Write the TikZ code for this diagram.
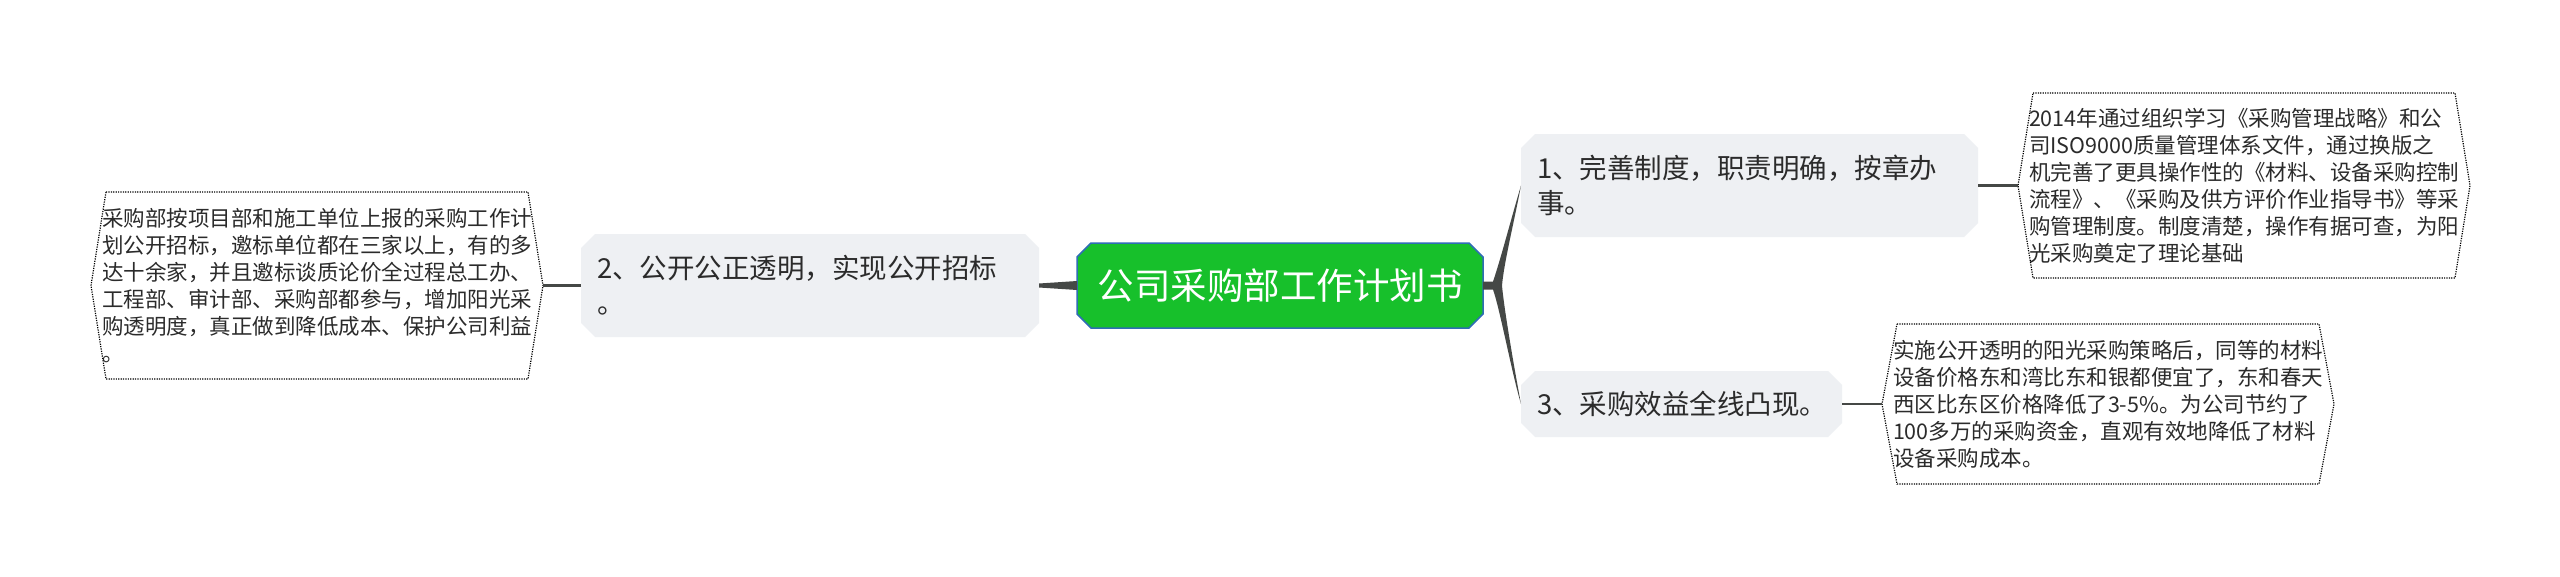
\documentclass[tikz,border=0pt]{standalone}
\usepackage{fontspec}
\setmainfont{Noto Sans CJK SC}
\usetikzlibrary{shapes.misc,calc}
\definecolor{topicgreen}{HTML}{17C02B}
\definecolor{topicblue}{HTML}{2F6DB5}
\definecolor{subfill}{HTML}{EEF0F3}
\definecolor{linkgray}{HTML}{454846}
\definecolor{textgray}{HTML}{2B2B2B}

\begin{document}
\begin{tikzpicture}[
x=1pt,y=-1pt,
every node/.style={inner sep=0pt,outer sep=0pt},
topic/.style={chamfered rectangle,chamfered rectangle xsep=7pt,chamfered rectangle ysep=7pt,
  fill=topicgreen,draw=topicblue,line width=1.5pt,minimum width=406pt,minimum height=85pt,
  text=white,font=\fontsize{36.5}{44}\selectfont},
sub/.style={chamfered rectangle,chamfered rectangle xsep=7pt,chamfered rectangle ysep=7pt,
  fill=subfill,minimum height=103pt,align=left,text=textgray,font=\fontsize{27.5}{35}\selectfont},
detail/.style={rectangle,text width=430pt,align=left,text=textgray,font=\fontsize{21.5}{27}\selectfont},
outline/.style={draw=black,line width=1.2pt,dash pattern=on 1.2pt off 1.2pt},
link/.style={draw=linkgray,line width=2.5pt},
]
\path[fill=white] (0,0) rectangle (2560,576);

\node[topic] (topic) at (1280,285.5) {公司采购部工作计划书};

\node[sub,minimum width=458pt,text width=426pt] (s2) at (810,285.5)
  {2、公开公正透明，实现公开招标\\。};
\node[sub,minimum width=457pt,text width=425pt] (s1) at (1749.5,185.5)
  {1、完善制度，职责明确，按章办\\事。};
\node[sub,minimum width=321pt,minimum height=66pt,text width=289pt] (s3) at (1681.5,404)
  {3、采购效益全线凸现。};

\node[detail,minimum height=187pt] (dl) at (317,285.5)
  {采购部按项目部和施工单位上报的采购工作计\\
   划公开招标，邀标单位都在三家以上，有的多\\
   达十余家，并且邀标谈质论价全过程总工办、\\
   工程部、审计部、采购部都参与，增加阳光采\\
   购透明度，真正做到降低成本、保护公司利益\\
   。};
\node[detail,minimum height=185pt] (d1) at (2244,185.5)
  {2014年通过组织学习《采购管理战略》和公\\
   司ISO9000质量管理体系文件，通过换版之\\
   机完善了更具操作性的《材料、设备采购控制\\
   流程》、《采购及供方评价作业指导书》等采\\
   购管理制度。制度清楚，操作有据可查，为阳\\
   光采购奠定了理论基础};
\node[detail,minimum height=160pt] (d3) at (2108,404)
  {实施公开透明的阳光采购策略后，同等的材料\\
   设备价格东和湾比东和银都便宜了，东和春天\\
   西区比东区价格降低了3-5\%。为公司节约了\\
   100多万的采购资金，直观有效地降低了材料\\
   设备采购成本。};

\foreach \d in {dl,d1,d3}
  \draw[outline] ($(\d.north west)+(4,0)$) -- ($(\d.north east)+(-4,0)$)
    -- ($(\d.east)+(11,0)$) -- ($(\d.south east)+(-4,0)$)
    -- ($(\d.south west)+(4,0)$) -- ($(\d.west)+(-11,0)$) -- cycle;

% left side
\draw[link] ($(dl.east)+(11,0)$) -- (s2.west);
\fill[linkgray] ($(s2.east)+(0,-2)$) -- ($(topic.west)+(0,-4.5)$)
  -- ($(topic.west)+(0,4.5)$) -- ($(s2.east)+(0,2)$) -- cycle;

% right side
\coordinate (fork) at ($(topic.east)+(14,0)$);
\fill[linkgray] ($(topic.east)+(0,-4)$) -- ($(fork)+(-4,-4)$)
  .. controls ($(fork)+(3,-24)$) and ($(s1.west)+(-9,30)$) .. (s1.west)
  .. controls ($(s1.west)+(-7,37)$) and ($(fork)+(7,-23)$) .. ($(fork)+(5,0)$)
  .. controls ($(fork)+(7,23)$) and ($(s3.west)+(-7,-37)$) .. (s3.west)
  .. controls ($(s3.west)+(-9,-30)$) and ($(fork)+(3,24)$) .. ($(fork)+(-4,4)$)
  -- ($(topic.east)+(0,4)$) -- cycle;
\draw[link] (s1.east) -- ($(d1.west)+(-11,0)$);
\draw[link] (s3.east) -- ($(d3.west)+(-11,0)$);
\end{tikzpicture}
\end{document}
